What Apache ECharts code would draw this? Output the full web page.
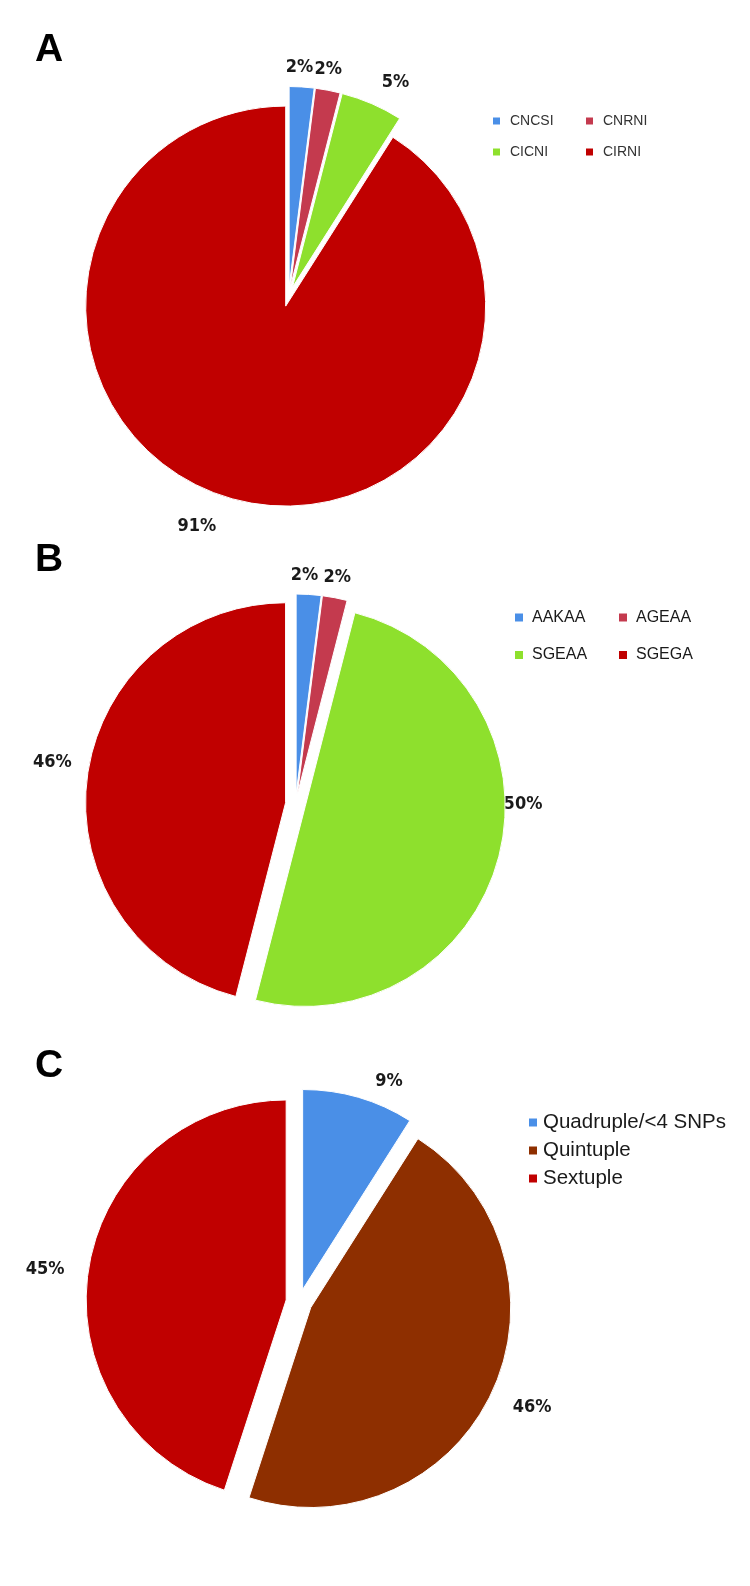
<!DOCTYPE html>
<html>
<head>
<meta charset="utf-8">
<script src="https://cdn.jsdelivr.net/npm/echarts@6/dist/echarts.min.js"></script>
<style>
html,body{margin:0;padding:0;background:#fff;}
#chart{width:750px;height:1586px;}
</style>
</head>
<body>
<div id="chart"></div>
<script>
// ---- data ----
const categoriesA = ['CNCSI', 'CNRNI', 'CICNI', 'CIRNI'];
const valuesA = [2, 2, 5, 91];
const categoriesB = ['AAKAA', 'AGEAA', 'SGEAA', 'SGEGA'];
const valuesB = [2, 2, 50, 46];
const categoriesC = ['Quadruple/<4 SNPs', 'Quintuple', 'Sextuple'];
const valuesC = [9, 46, 45];
const panelLetters = ['A', 'B', 'C'];

// ---- styles ----
const colorsA = ['#4A8FE7', '#C43A4E', '#8EE02D', '#C00000'];
const colorsB = ['#4A8FE7', '#C43A4E', '#8EE02D', '#C00000'];
const colorsC = ['#4A8FE7', '#8E2F00', '#C00000'];
// small label nudges (px) reproducing the original's "best fit" label placement
const nudgeA = [[-4, 9], [-5, 8], [12, 5], [-25, 0]];
const nudgeB = [[-6, 10], [-3, 8], [-4, -59], [-6, -12]];
const nudgeC = [[20, 20], [6, -2], [-6, 7]];
const labelFont = "'DejaVu Sans Condensed', 'Liberation Sans Narrow', 'DejaVu Sans', sans-serif";
const legendFont = "'Liberation Sans', Arial, sans-serif";

function pieData(cats, vals, cols) {
  return cats.map((c, i) => ({ name: c, value: vals[i], selected: true, itemStyle: { color: cols[i] } }));
}
function labelData(cats, vals, nudges) {
  return cats.map((c, i) => ({ name: c, value: vals[i], label: { offset: nudges[i] } }));
}

function pieSeries(data, center, offset) {
  return {
    type: 'pie', center: center, radius: 200, startAngle: 90, clockwise: true,
    selectedMode: 'multiple', selectedOffset: offset,
    animation: false, silent: true,
    itemStyle: { borderColor: '#fff', borderWidth: 1 },
    label: { show: false }, labelLine: { show: false },
    data: data
  };
}
// invisible ring that carries the percentage labels at a fixed distance from the centre
function labelRing(data, center, dist) {
  return {
    type: 'pie', center: center, radius: [dist - 1, dist + 1], startAngle: 90, clockwise: true,
    animation: false, silent: true,
    itemStyle: { color: 'rgba(0,0,0,0)', borderWidth: 0 },
    emphasis: { disabled: true },
    label: {
      show: true, position: 'inside', formatter: '{c}%',
      fontFamily: labelFont, fontWeight: 'bold', fontSize: 18, color: '#1a1a1a'
    },
    labelLine: { show: false },
    data: data
  };
}

function letterTitle(t, top) {
  return { text: t, left: 35, top: top, padding: 0,
    textStyle: { fontFamily: legendFont, fontWeight: 'bold', fontSize: 39, color: '#000' } };
}
function legendCol(names, left, top, size, gap, fontSize, color, padLeft) {
  return { data: names, orient: 'vertical', left: left, top: top, padding: 0,
    itemWidth: size, itemHeight: size, itemGap: gap, icon: 'rect',
    textStyle: { fontFamily: legendFont, fontSize: fontSize, color: color, padding: [0, 0, 0, padLeft] } };
}

const chart = echarts.init(document.getElementById('chart'), null, { renderer: 'canvas' });
const option = {
  backgroundColor: '#fff',
  title: [letterTitle(panelLetters[0], 31), letterTitle(panelLetters[1], 541), letterTitle(panelLetters[2], 1047)],
  legend: [
    legendCol([categoriesA[0], categoriesA[2]], 491, 114, 9, 17, 14, '#333', 4),
    legendCol([categoriesA[1], categoriesA[3]], 584, 114, 9, 17, 14, '#333', 4),
    legendCol([categoriesB[0], categoriesB[2]], 513, 609.5, 10, 21.5, 16, '#1a1a1a', 3),
    legendCol([categoriesB[1], categoriesB[3]], 617, 609.5, 10, 21.5, 16, '#1a1a1a', 3),
    legendCol(categoriesC, 527, 1112, 10, 7, 20.5, '#1a1a1a', 0)
  ],
  series: [
    pieSeries(pieData(categoriesA, valuesA, colorsA), [288.5, 296.5], 10),
    labelRing(labelData(categoriesA, valuesA, nudgeA), [288.5, 296.5], 236),
    pieSeries(pieData(categoriesB, valuesB, colorsB), [295.5, 804], 10),
    labelRing(labelData(categoriesB, valuesB, nudgeB), [295.5, 804], 236),
    pieSeries(pieData(categoriesC, valuesC, colorsC), [299, 1302], 13),
    labelRing(labelData(categoriesC, valuesC, nudgeC), [299, 1302], 248)
  ]
};
chart.setOption(option);
</script>
</body>
</html>
